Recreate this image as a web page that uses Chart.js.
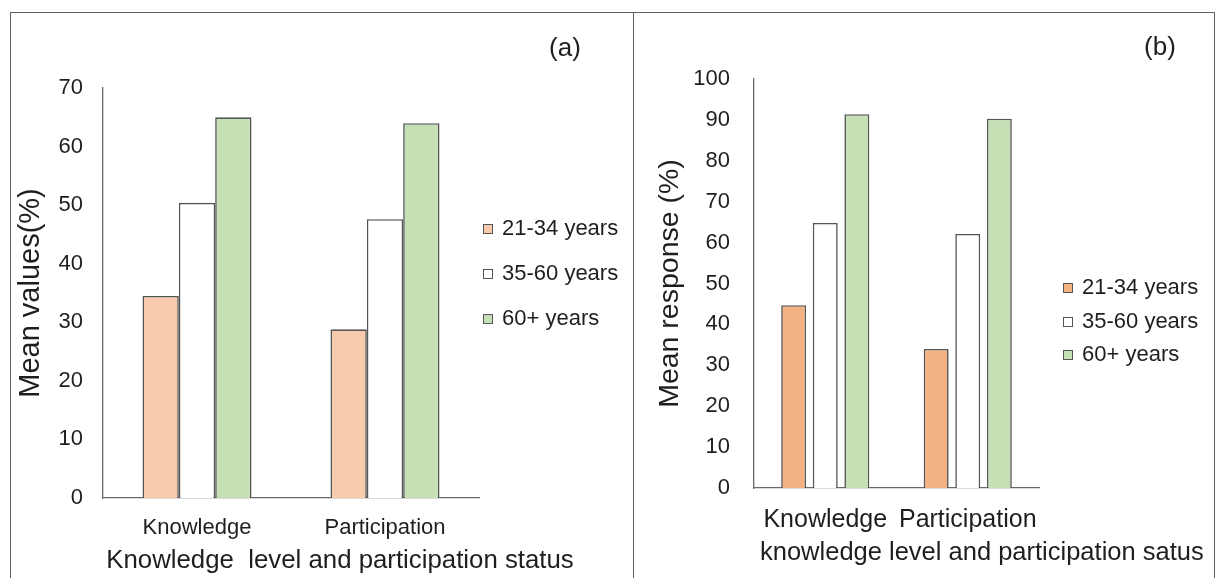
<!DOCTYPE html>
<html>
<head>
<meta charset="utf-8">
<title>Mean values by age group</title>
<script src="https://cdn.jsdelivr.net/npm/chart.js@4.4.1/dist/chart.umd.min.js"></script>
<style>
    body { margin: 0; background: #fff; width: 1220px; height: 578px; overflow: hidden; position: relative; }
    canvas { position: absolute; top: 0; }
    #chart-a { left: 0; }
    #chart-b { left: 634px; }
    .line { position: absolute; background: #5f5f5f; }
</style>
</head>
<body>
<canvas id="chart-a" width="632" height="578"></canvas>
<canvas id="chart-b" width="586" height="578"></canvas>
<div class="line" style="left:10px; top:12px; width:1205px; height:1px;"></div>
<div class="line" style="left:10px; top:12px; width:1px; height:566px;"></div>
<div class="line" style="left:633px; top:12px; width:1px; height:566px;"></div>
<div class="line" style="left:1214px; top:12px; width:1px; height:566px;"></div>
<script>
// Data
const categories = ['Knowledge', 'Participation'];
const ageGroups = ['21-34 years', '35-60 years', '60+ years'];

// (a) mean values (%)
const valuesA_21_34 = [34.5, 28.8];
const valuesA_35_60 = [50.4, 47.6];
const valuesA_60plus = [65.0, 64.0];

// (b) mean response (%)
const valuesB_21_34 = [44.7, 34.0];
const valuesB_35_60 = [64.8, 62.1];
const valuesB_60plus = [91.4, 90.3];

const FONT = '"Liberation Sans", Arial, sans-serif';
const EDGE = '#555555';
const INK = '#1e1e1e';

// Draws panel tag, the long x-axis title and the legend
const panelDecor = {
    id: 'panelDecor',
    afterDraw(chart, args, opts) {
        const ctx = chart.ctx;
        ctx.save();
        ctx.textBaseline = 'middle';

        ctx.fillStyle = INK;
        ctx.font = `${opts.tagSize}px ${FONT}`;
        ctx.textAlign = 'center';
        ctx.fillText(opts.tag, opts.tagX, opts.tagY);

        ctx.font = `${opts.xTitleSize}px ${FONT}`;
        ctx.textAlign = opts.xTitleAlign;
        ctx.fillText(opts.xTitle, opts.xTitleX, opts.xTitleY);

        ctx.font = `${opts.legendSize}px ${FONT}`;
        ctx.textAlign = 'left';
        chart.data.datasets.forEach((ds, i) => {
            const y = opts.legendY[i];
            ctx.fillStyle = ds.backgroundColor;
            ctx.fillRect(opts.legendX, y - 4, 9, 9);
            ctx.strokeStyle = EDGE;
            ctx.lineWidth = 1;
            ctx.strokeRect(opts.legendX + 0.5, y - 3.5, 9, 9);
            ctx.fillStyle = INK;
            ctx.fillText(ds.label, opts.legendX + 19, y + 1);
        });
        ctx.restore();
    }
};

function makeDatasets(values, colors, barPct, catPct) {
    return values.map((data, i) => ({
        label: ageGroups[i],
        data,
        backgroundColor: colors[i],
        borderColor: EDGE,
        borderWidth: 1.6,
        barPercentage: barPct,
        categoryPercentage: catPct
    }));
}

function makeOptions(cfg) {
    return {
        responsive: false,
        animation: false,
        devicePixelRatio: 1,
        layout: { padding: { left: 0, top: cfg.top, right: cfg.right, bottom: 0 } },
        plugins: {
            legend: { display: false },
            tooltip: { enabled: false },
            panelDecor: cfg.decor
        },
        scales: {
            x: {
                grid: { display: false, drawTicks: false },
                border: { display: true, color: '#6a6a6a', width: 1.3 },
                ticks: {
                    color: INK,
                    font: { family: FONT, size: cfg.xTickSize },
                    padding: cfg.xTickPad,
                    maxRotation: 0,
                    autoSkip: false
                },
                afterFit(scale) { scale.height = cfg.xHeight; }
            },
            y: {
                min: 0,
                max: cfg.yMax,
                grid: { display: false, drawTicks: false },
                border: { display: true, color: '#6a6a6a', width: 1.3 },
                ticks: {
                    stepSize: 10,
                    color: INK,
                    font: { family: FONT, size: cfg.yTickSize },
                    padding: cfg.yTickPad
                },
                title: {
                    display: true,
                    text: cfg.yTitle,
                    color: INK,
                    font: { family: FONT, size: cfg.yTitleSize },
                    padding: { top: cfg.yTitlePad, bottom: 0 }
                },
                afterFit(scale) { scale.width = cfg.yWidth; }
            }
        }
    };
}

new Chart(document.getElementById('chart-a'), {
    type: 'bar',
    data: {
        labels: categories,
        datasets: makeDatasets([valuesA_21_34, valuesA_35_60, valuesA_60plus],
            ['#F8CBAD', '#FFFFFF', '#C5E0B4'], 1.0, 0.58)
    },
    options: makeOptions({
        top: 88, right: 153, xHeight: 80, yWidth: 103, yMax: 70,
        xTickSize: 22, xTickPad: 17, yTickSize: 22, yTickPad: 20,
        yTitle: 'Mean values(%)', yTitleSize: 29, yTitlePad: 14,
        decor: {
            tag: '(a)', tagSize: 26, tagX: 565, tagY: 49,
            xTitle: 'Knowledge  level and participation status', xTitleSize: 25.8,
            xTitleAlign: 'center', xTitleX: 340, xTitleY: 561,
            legendSize: 22, legendX: 483, legendY: [228, 273, 318]
        }
    }),
    plugins: [panelDecor]
});

new Chart(document.getElementById('chart-b'), {
    type: 'bar',
    data: {
        labels: categories,
        datasets: makeDatasets([valuesB_21_34, valuesB_35_60, valuesB_60plus],
            ['#F4B183', '#FFFFFF', '#C5E0B4'], 0.79, 0.665)
    },
    options: makeOptions({
        top: 79, right: 181, xHeight: 90, yWidth: 120, yMax: 100,
        xTickSize: 25, xTickPad: 17, yTickSize: 22, yTickPad: 24,
        yTitle: 'Mean response (%)', yTitleSize: 28.5, yTitlePad: 19,
        decor: {
            tag: '(b)', tagSize: 26, tagX: 526, tagY: 48,
            xTitle: 'knowledge level and participation satus', xTitleSize: 25.5,
            xTitleAlign: 'left', xTitleX: 126, xTitleY: 553,
            legendSize: 22, legendX: 429, legendY: [287, 321, 354]
        }
    }),
    plugins: [panelDecor]
});
</script>
</body>
</html>
